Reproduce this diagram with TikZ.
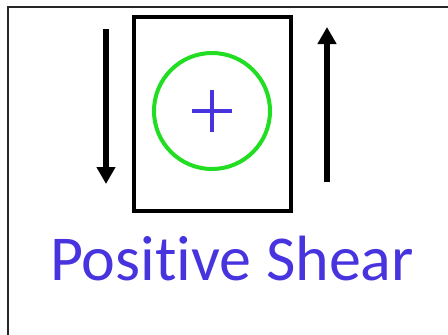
\documentclass[tikz,border=0pt]{standalone}
\usepackage{fontspec}
\setmainfont[RawFeature={-liga;-clig;-calt;-dlig}]{Carlito}
\usetikzlibrary{arrows.meta, positioning}
\definecolor{myblue}{RGB}{72,52,222}
\definecolor{mygreen}{RGB}{34,222,34}
\tikzset{
  element/.style={rectangle, draw=black, line width=3.2pt,
    minimum width=157pt, minimum height=194pt, inner sep=0pt},
  signring/.style={circle, draw=mygreen, line width=4pt,
    minimum size=116pt, inner sep=0pt},
  signbar/.style={myblue, line width=4.2pt},
  shear/.style={-{Triangle[width=18pt, length=17pt]}, line width=6pt, color=black},
  frameline/.style={line width=2pt, color=black!85}
}

\begin{document}
\begin{tikzpicture}[x=1pt, y=-1pt]
  \useasboundingbox (0,0) rectangle (448,335);
  % outer frame
  \coordinate (fcorner) at (8,7);
  \draw[frameline] (448,7) -- (fcorner) -- (8,335);

  \node[element] (elem) at (212.5,114) {};
  \node[signring] (ring) at (212,111) {};
  \draw[signbar] ([xshift=-20pt]ring.center) -- ([xshift=20pt]ring.center);
  \draw[signbar] ([yshift=-21pt]ring.center) -- ([yshift=21pt]ring.center);

  % shear forces
  \coordinate (ltail) at (106,29);
  \coordinate (ltip) at (106,184);
  \coordinate (rtail) at (327,182);
  \coordinate (rtip) at (327,27);
  \draw[shear] (ltail) -- (ltip);
  \draw[shear] (rtail) -- (rtip);

  \node[font=\fontsize{64}{70}\selectfont, text=myblue, anchor=base, inner sep=0pt]
    (caption) at (232,280) {Positive Shear};
\end{tikzpicture}
\end{document}
